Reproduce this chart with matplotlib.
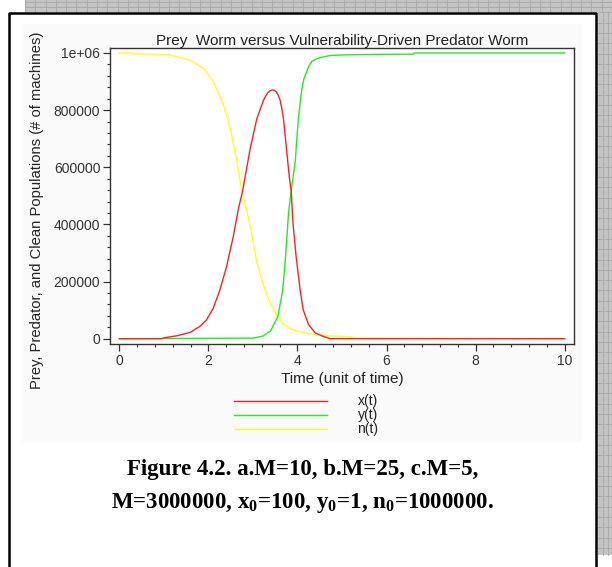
import numpy as np
import matplotlib
matplotlib.use("Agg")
import matplotlib.pyplot as plt
from matplotlib.patches import Rectangle
from matplotlib.ticker import MultipleLocator

# prey worm x(t)
x_t = [0, 0.95, 1.0, 1.29, 1.59, 1.81, 1.96, 2.11, 2.26, 2.41, 2.56, 2.67, 2.77,
       2.94, 3.09, 3.24, 3.29, 3.34, 3.39, 3.44, 3.48, 3.52, 3.57, 3.61, 3.65,
       3.69, 3.76, 3.82, 3.86, 3.90, 3.97, 4.06, 4.13, 4.25, 4.40, 4.58, 4.73,
       10]
x_v = [0, 0, 3000, 10000, 22000, 43000, 66000, 107000, 171000, 253000, 358000,
       451000, 518000, 666000, 771000, 835000, 850000, 862000, 868000, 871000,
       869000, 865000, 852000, 835000, 805000, 765000, 655000, 562000, 518000,
       404000, 288000, 171000, 101000, 49000, 20000, 8000, 0, 0]

# predator worm y(t)
y_t = [0, 3.01, 3.24, 3.40, 3.56, 3.67, 3.74, 3.80, 3.86, 3.95, 4.02, 4.10,
       4.15, 4.21, 4.26, 4.32, 4.41, 4.51, 4.73, 4.96, 5.63, 6.60, 6.62, 10]
y_v = [0, 2000, 10000, 28000, 78000, 170000, 300000, 440000, 518000, 620000,
       771000, 876000, 912000, 935000, 955000, 970000, 978000, 984000, 991000,
       993000, 995000, 996000, 1000000, 1000000]

# clean machines n(t)
n_t = [0, 0.33, 0.35, 1.14, 1.59, 1.89, 2.11, 2.34, 2.49, 2.64, 2.75, 2.86,
       2.97, 3.09, 3.20, 3.31, 3.42, 3.54, 3.69, 3.84, 3.99, 4.29, 4.66, 5.18,
       5.27, 10]
n_v = [1000000, 1000000, 997000, 993000, 975000, 946000, 900000, 818000,
       737000, 620000, 518000, 450000, 370000, 265000, 205000, 155000, 115000,
       80000, 50000, 35000, 26000, 17000, 10000, 7000, 2000, 0]

x_ticks = [0, 2, 4, 6, 8, 10]
y_ticks = [0, 200000, 400000, 600000, 800000, 1000000]
y_tick_labels = ["0", "200000", "400000", "600000", "800000", "1e+06"]
legend_labels = ["x(t)", "y(t)", "n(t)"]
colors = ["#ff2020", "#20ee20", "#ffff20"]

W, H = 612, 567
plt.rcParams["font.family"] = ["Liberation Sans", "DejaVu Sans"]
plt.rcParams["mathtext.fontset"] = "custom"
plt.rcParams["mathtext.rm"] = "Liberation Serif"
plt.rcParams["mathtext.bf"] = "Liberation Serif:bold"

fig = plt.figure(figsize=(W / 100, H / 100), dpi=100)
fig.patch.set_facecolor("white")

# page background: grey grid outside the frame, black frame, faint panel
bg = fig.add_axes([0, 0, 1, 1])
bg.set_xlim(0, W)
bg.set_ylim(H, 0)
bg.axis("off")
bg.add_patch(Rectangle((25, 0), W - 25, 12, color="#c4c4c4", lw=0))
bg.add_patch(Rectangle((598, 0), 14, 555, color="#c4c4c4", lw=0))
for gx in np.arange(25, W, 10.3):
    bg.plot([gx, gx], [0, 12], color="#a8a8a8", lw=0.6)
for gy in np.arange(2, 555, 10.3):
    bg.plot([598, W], [gy, gy], color="#a8a8a8", lw=0.6)
for gx in [603, 608]:
    bg.plot([gx, gx], [12, 555], color="#a8a8a8", lw=0.6)
for gy in [2, 7]:
    bg.plot([25, W], [gy, gy], color="#a8a8a8", lw=0.6)
bg.add_patch(Rectangle((22, 24), 560, 418, color="#fafafa", lw=0))
bg.plot([9, 9, 596, 596], [H + 5, 13, 13, H + 5], color="black", lw=1.8)

ax = fig.add_axes([110 / W, 1 - 344 / H, 464 / W, 296 / H])
ax.set_facecolor("white")
ax.plot(n_t, n_v, color=colors[2], lw=1.0)
ax.plot(y_t, y_v, color=colors[1], lw=1.0)
ax.plot(x_t, x_v, color=colors[0], lw=1.0)

ax.set_xlim(-0.209, 10.21)
ax.set_ylim(-18600, 1017500)
ax.set_xticks(x_ticks)
ax.set_xticklabels([str(v) for v in x_ticks])
ax.set_yticks(y_ticks)
ax.set_yticklabels(y_tick_labels)
ax.xaxis.set_minor_locator(MultipleLocator(0.4))
ax.yaxis.set_minor_locator(MultipleLocator(40000))
ax.tick_params(which="major", length=5, width=0.9, labelsize=10,
               colors="#333333", pad=2)
ax.tick_params(which="minor", length=2.5, width=0.8, colors="#333333")
for s in ax.spines.values():
    s.set_color("#333333")
    s.set_linewidth(1.0)

ax.set_title("Prey  Worm versus Vulnerability-Driven Predator Worm",
             fontsize=11, color="#222222", pad=1)
ax.set_xlabel("Time (unit of time)", fontsize=11, color="#222222",
              labelpad=3)
fig.text(37 / W, 1 - 210 / H,
         "Prey, Predator, and Clean Populations (# of machines)",
         rotation=90, ha="center", va="center", fontsize=10.6,
         color="#222222")

# legend drawn like the original: lines on the left, labels on the right
leg_y = [401, 415, 429]
for c, lab, yy in zip(colors, legend_labels, leg_y):
    bg.plot([234, 327], [yy, yy], color=c, lw=1.0)
    bg.text(368, yy, lab, ha="center", va="center", fontsize=10,
            color="#222222")

cap = dict(ha="center", va="center", fontsize=16.5, fontweight="bold",
           family="Liberation Serif", color="black")
bg.text(303, 470, "Figure 4.2. a.M=10, b.M=25, c.M=5,", **cap)
bg.text(302, 503, r"M=3000000, x$_\mathbf{0}$=100, y$_\mathbf{0}$=1, "
        r"n$_\mathbf{0}$=1000000.", **cap)

fig.savefig("out.png", dpi=100)
